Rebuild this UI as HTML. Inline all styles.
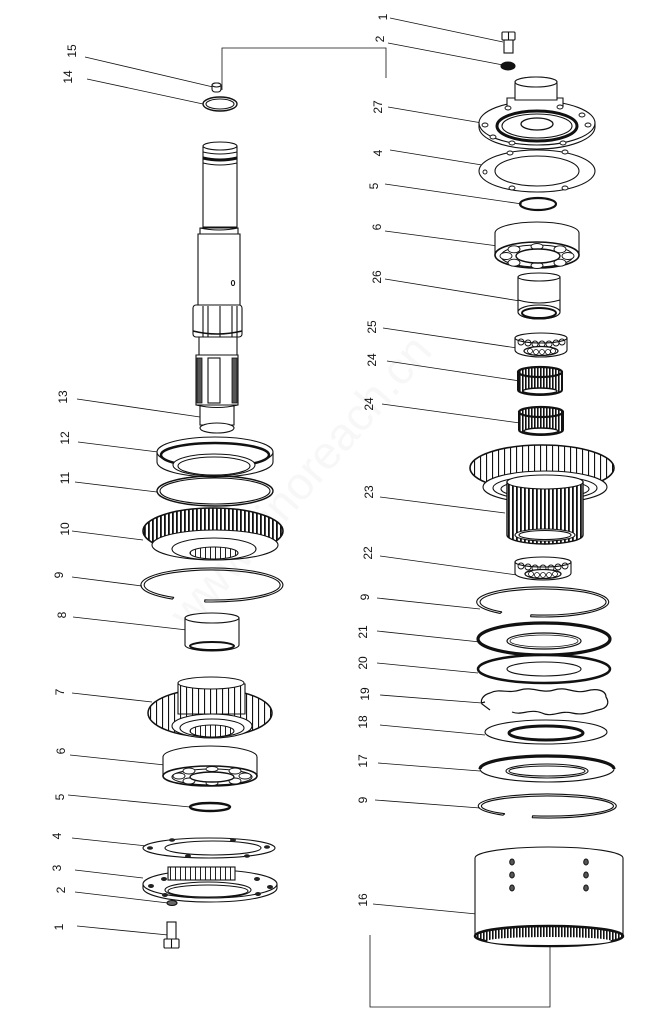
<!DOCTYPE html>
<html><head><meta charset="utf-8"><style>
html,body{margin:0;padding:0;background:#fff;}
svg{display:block;}
text{font-family:"Liberation Sans",sans-serif;font-size:12px;fill:#111;}
</style></head><body>
<svg width="660" height="1024" viewBox="0 0 660 1024" xmlns="http://www.w3.org/2000/svg">
<defs>
<pattern id="t" width="4" height="8" patternUnits="userSpaceOnUse"><rect width="4" height="8" fill="#fff"/><rect x="0" width="1.8" height="8" fill="#111"/></pattern>
<pattern id="g" width="6" height="8" patternUnits="userSpaceOnUse"><rect width="6" height="8" fill="#fff"/><rect x="0" width="1.1" height="8" fill="#111"/></pattern>
<pattern id="n" width="3" height="8" patternUnits="userSpaceOnUse"><rect width="3" height="8" fill="#fff"/><rect x="0" width="1.6" height="8" fill="#111"/></pattern>
<pattern id="s" width="5" height="8" patternUnits="userSpaceOnUse"><rect width="5" height="8" fill="#fff"/><rect x="0" width="1" height="8" fill="#222"/></pattern>
</defs>

<!-- watermark -->
<text transform="translate(312,492) rotate(-49)" text-anchor="middle" style="font-size:46px;fill:#f7f7f7">www.sinoreach.cn</text>

<!-- leader lines -->
<g stroke="#111" stroke-width="0.8" fill="none">
<path d="M85 57L213 87M87 79L203 104M77 399L200 417M78 442L158 452M75 482L157 492M72 531L143 540M72 577L142 586M73 617L187 630M72 693L152 702M70 755L165 765M68 795L190 807M72 838L147 846M75 870L143 878M75 892L168 903M77 926L168 935"/>
<path d="M390 18L503 42M388 43L503 65M388 107L482 123M390 150L482 165M385 184L522 204M385 231L498 246M385 279L520 301M383 328L517 348M387 361L520 381M382 404L520 423M380 497L505 513M380 556L517 575M377 598L480 609M377 631L480 642M377 663L478 673M380 695L482 703M380 725L485 735M378 763L480 771M375 800L480 808M373 904L487 915"/>
<path d="M222 90L222 48L386 48L386 78"/>
<path d="M370 935L370 1007L550 1007L550 945"/>
</g>

<!-- labels -->
<g text-anchor="middle">
<text transform="translate(72,51) rotate(-90)" dy="4">15</text>
<text transform="translate(68,77) rotate(-90)" dy="4">14</text>
<text transform="translate(63,397) rotate(-90)" dy="4">13</text>
<text transform="translate(65,438) rotate(-90)" dy="4">12</text>
<text transform="translate(65,478) rotate(-90)" dy="4">11</text>
<text transform="translate(65,529) rotate(-90)" dy="4">10</text>
<text transform="translate(59,575) rotate(-90)" dy="4">9</text>
<text transform="translate(62,615) rotate(-90)" dy="4">8</text>
<text transform="translate(60,692) rotate(-90)" dy="4">7</text>
<text transform="translate(61,751) rotate(-90)" dy="4">6</text>
<text transform="translate(60,797) rotate(-90)" dy="4">5</text>
<text transform="translate(57,836) rotate(-90)" dy="4">4</text>
<text transform="translate(57,868) rotate(-90)" dy="4">3</text>
<text transform="translate(61,890) rotate(-90)" dy="4">2</text>
<text transform="translate(59,927) rotate(-90)" dy="4">1</text>

<text transform="translate(383,17) rotate(-90)" dy="4">1</text>
<text transform="translate(380,39) rotate(-90)" dy="4">2</text>
<text transform="translate(378,107) rotate(-90)" dy="4">27</text>
<text transform="translate(378,153) rotate(-90)" dy="4">4</text>
<text transform="translate(374,186) rotate(-90)" dy="4">5</text>
<text transform="translate(377,227) rotate(-90)" dy="4">6</text>
<text transform="translate(377,277) rotate(-90)" dy="4">26</text>
<text transform="translate(372,327) rotate(-90)" dy="4">25</text>
<text transform="translate(372,360) rotate(-90)" dy="4">24</text>
<text transform="translate(369,404) rotate(-90)" dy="4">24</text>
<text transform="translate(369,492) rotate(-90)" dy="4">23</text>
<text transform="translate(368,553) rotate(-90)" dy="4">22</text>
<text transform="translate(365,597) rotate(-90)" dy="4">9</text>
<text transform="translate(363,632) rotate(-90)" dy="4">21</text>
<text transform="translate(363,663) rotate(-90)" dy="4">20</text>
<text transform="translate(365,694) rotate(-90)" dy="4">19</text>
<text transform="translate(363,722) rotate(-90)" dy="4">18</text>
<text transform="translate(363,761) rotate(-90)" dy="4">17</text>
<text transform="translate(363,800) rotate(-90)" dy="4">9</text>
<text transform="translate(363,900) rotate(-90)" dy="4">16</text>
</g>

<g stroke="#111" stroke-width="1.1" fill="#fff">
<!-- 15, 14 -->
<rect x="212" y="83" width="9" height="9" rx="3"/>
<ellipse cx="216.5" cy="85" rx="4.5" ry="2"/>
<ellipse cx="220" cy="104" rx="17" ry="7" stroke-width="1.4"/>
<ellipse cx="220" cy="104" rx="14" ry="5" fill="none"/>

<!-- shaft 13 -->
<path d="M203 147L203 227L237 227L237 147Z"/>
<ellipse cx="220" cy="146" rx="17" ry="4"/>
<path d="M203 152Q220 156 237 152" fill="none"/>
<path d="M203 158Q220 162 237 158" fill="none" stroke-width="3"/>
<path d="M203 163Q220 167 237 163" fill="none"/>
<path d="M200 228L238 228L238 234L200 234Z"/>
<path d="M200 228Q219 232 238 228" fill="none"/>
<path d="M198 234L240 234L240 306L198 306Z"/>
<ellipse cx="233" cy="283" rx="1.6" ry="2.5" fill="none"/>
<path d="M199 337L237 337L237 356L199 356Z"/>
<rect x="193" y="305" width="49" height="32" rx="3"/>
<path d="M203 306L203 337M208 306L208 337M220 306L220 337M232 306L232 337M237 306L237 337" fill="none"/>
<path d="M193 331Q217 337 242 331" fill="none" stroke-width="1.5"/>
<path d="M196 355L238 355L238 405L196 405Z"/>
<rect x="197" y="358" width="5" height="45" fill="#555" stroke-width="0.8"/>
<rect x="208" y="358" width="12" height="45" fill="#fff"/>
<rect x="232" y="358" width="5" height="45" fill="#555" stroke-width="0.8"/>
<path d="M200 405L234 405L234 425L200 425Z"/>
<path d="M196 405Q217 410 238 405" fill="none"/>
<ellipse cx="217" cy="428" rx="17" ry="5"/>

<!-- 12 -->
<path d="M157 452L157 462A58 15 0 0 0 273 462L273 452Z"/>
<ellipse cx="215" cy="452" rx="58" ry="15"/>
<ellipse cx="215" cy="455" rx="54" ry="12" fill="none" stroke-width="2.5"/>
<ellipse cx="214" cy="465" rx="41" ry="11"/>
<ellipse cx="214" cy="466" rx="36" ry="9" fill="none"/>
<!-- 11 -->
<ellipse cx="215" cy="491" rx="58" ry="15" fill="none" stroke-width="1.4"/>
<ellipse cx="215" cy="491" rx="55" ry="13" fill="none"/>
<!-- 10 gear -->
<ellipse cx="213" cy="531" rx="70" ry="23" fill="url(#t)" stroke-width="1.6"/>
<ellipse cx="215" cy="545" rx="63" ry="15"/>
<ellipse cx="214" cy="549" rx="42" ry="11"/>
<ellipse cx="214" cy="553" rx="24" ry="6" fill="url(#s)"/>
<!-- 9 -->
<path d="M204.6 601.9A71 17 0 1 0 172.3 599.1L174 597.4M204.6 601.9L204.9 599.9A68 15 0 1 0 174 597.4" fill="none"/>
<!-- 8 -->
<path d="M185 618L185 645A27 6 0 0 0 239 645L239 618Z"/>
<ellipse cx="212" cy="618" rx="27" ry="5"/>
<ellipse cx="212" cy="646" rx="22" ry="4" fill="none" stroke-width="2"/>
<!-- 7 gear -->
<ellipse cx="210" cy="713" rx="62" ry="24" fill="url(#g)" stroke-width="1.5"/>
<path d="M178 684L178 714L245 714L245 684Z" fill="url(#g)"/>
<ellipse cx="211" cy="683" rx="33" ry="6"/>
<ellipse cx="212" cy="726" rx="40" ry="12"/>
<ellipse cx="212" cy="728" rx="32" ry="9" fill="none"/>
<ellipse cx="212" cy="731" rx="22" ry="6" fill="url(#s)"/>
<!-- 6 bearing left -->
<path d="M163 757A47 11 0 0 1 257 757L257 776L163 776Z"/>
<ellipse cx="210" cy="776" rx="47" ry="10" stroke-width="1.6"/>
<ellipse cx="212" cy="777" rx="40" ry="8" fill="none"/>
<g stroke-width="0.9">
<ellipse cx="245" cy="776" rx="6" ry="3"/><ellipse cx="235" cy="781" rx="6" ry="3"/><ellipse cx="212" cy="783" rx="6" ry="2.5"/><ellipse cx="189" cy="781" rx="6" ry="3"/><ellipse cx="179" cy="776" rx="6" ry="3"/><ellipse cx="189" cy="771" rx="6" ry="3"/><ellipse cx="212" cy="769" rx="6" ry="2.5"/><ellipse cx="235" cy="771" rx="6" ry="3"/>
</g>
<ellipse cx="212" cy="777" rx="22" ry="5" stroke-width="1.4"/>
<!-- 5 -->
<ellipse cx="210" cy="807" rx="20" ry="4" fill="none" stroke-width="2.4"/>
<!-- 4 gasket -->
<ellipse cx="209" cy="848" rx="66" ry="10"/>
<ellipse cx="213" cy="848" rx="48" ry="7" fill="none"/>
<g fill="#222" stroke="none">
<ellipse cx="172" cy="840" rx="3" ry="1.8"/><ellipse cx="233" cy="840" rx="3" ry="1.8"/><ellipse cx="150" cy="848" rx="3" ry="1.8"/><ellipse cx="188" cy="856" rx="3" ry="1.8"/><ellipse cx="247" cy="856" rx="3" ry="1.8"/><ellipse cx="267" cy="847" rx="3" ry="1.8"/>
</g>
<!-- 3 flange -->
<path d="M143 884L143 888A67 14 0 0 0 277 888L277 884Z"/>
<ellipse cx="210" cy="884" rx="67" ry="14"/>
<rect x="168" y="867" width="67" height="13" fill="url(#s)"/>
<ellipse cx="208" cy="890" rx="43" ry="8"/>
<ellipse cx="208" cy="891" rx="40" ry="6" fill="none"/>
<g fill="#222" stroke="none">
<ellipse cx="151" cy="886" rx="3" ry="2"/><ellipse cx="164" cy="879" rx="3" ry="2"/><ellipse cx="257" cy="879" rx="3" ry="2"/><ellipse cx="270" cy="887" rx="3" ry="2"/><ellipse cx="165" cy="895" rx="3" ry="2"/><ellipse cx="258" cy="894" rx="3" ry="2"/>
</g>
<!-- 2, 1 left -->
<ellipse cx="172" cy="903" rx="5" ry="2.5" fill="#666"/>
<rect x="167" y="922" width="9" height="18"/>
<rect x="164" y="939" width="15" height="9" rx="1"/>
<path d="M171.5 939L171.5 948" fill="none"/>

<!-- RIGHT COLUMN -->
<rect x="502" y="32" width="13" height="8" rx="1"/>
<path d="M508.5 32L508.5 40" fill="none"/>
<rect x="504" y="40" width="9" height="13"/>
<ellipse cx="508" cy="66" rx="7" ry="4" fill="#111"/>
<!-- 27 cover -->
<path d="M479 123L479 127A58 22 0 0 0 595 127L595 123Z"/>
<ellipse cx="537" cy="123" rx="58" ry="22"/>
<path d="M507 107L507 98L563 98L563 107"/>
<path d="M515 100L515 84Q515 77 536 77Q557 77 557 84L557 100Z"/>
<ellipse cx="536" cy="82" rx="21" ry="5"/>
<ellipse cx="537" cy="126" rx="40" ry="15" stroke-width="3"/>
<ellipse cx="537" cy="126" rx="35" ry="12" fill="none"/>
<ellipse cx="537" cy="124" rx="16" ry="6" fill="none" stroke-width="1.3"/>
<g stroke-width="0.9">
<ellipse cx="508" cy="108" rx="3" ry="2"/><ellipse cx="560" cy="107" rx="3" ry="2"/><ellipse cx="485" cy="125" rx="3" ry="2"/><ellipse cx="493" cy="137" rx="3" ry="2"/><ellipse cx="512" cy="143" rx="3" ry="2"/><ellipse cx="563" cy="143" rx="3" ry="2"/><ellipse cx="582" cy="115" rx="3" ry="2"/><ellipse cx="588" cy="125" rx="3" ry="2"/>
</g>
<!-- 4 gasket -->
<ellipse cx="537" cy="171" rx="58" ry="21"/>
<ellipse cx="537" cy="171" rx="42" ry="15" fill="none"/>
<g stroke-width="0.9">
<ellipse cx="510" cy="153" rx="3" ry="2"/><ellipse cx="565" cy="152" rx="3" ry="2"/><ellipse cx="485" cy="172" rx="2" ry="2"/><ellipse cx="512" cy="188" rx="3" ry="2"/><ellipse cx="565" cy="188" rx="3" ry="2"/>
</g>
<!-- 5 -->
<ellipse cx="538" cy="204" rx="18" ry="6" fill="none" stroke-width="2.2"/>
<!-- 6 bearing right -->
<path d="M495 233A42 11 0 0 1 579 233L579 255L495 255Z"/>
<ellipse cx="537" cy="255" rx="42" ry="13" stroke-width="1.6"/>
<ellipse cx="537" cy="256" rx="36" ry="11" fill="none"/>
<g stroke-width="0.9">
<ellipse cx="568" cy="256" rx="6" ry="3.5"/><ellipse cx="560" cy="262.7" rx="6" ry="3.5"/><ellipse cx="537" cy="265.5" rx="6" ry="3"/><ellipse cx="514" cy="262.7" rx="6" ry="3.5"/><ellipse cx="506" cy="256" rx="6" ry="3.5"/><ellipse cx="514" cy="249.3" rx="6" ry="3.5"/><ellipse cx="537" cy="246.5" rx="6" ry="3"/><ellipse cx="560" cy="249.3" rx="6" ry="3.5"/>
</g>
<ellipse cx="538" cy="256" rx="22" ry="7" stroke-width="1.4"/>
<!-- 26 bushing -->
<path d="M518 277L518 312A21 7 0 0 0 560 312L560 277Z"/>
<ellipse cx="539" cy="277" rx="21" ry="4"/>
<path d="M518 300Q539 306 560 300" fill="none"/>
<ellipse cx="539" cy="312" rx="21" ry="7"/>
<ellipse cx="539" cy="313" rx="17" ry="5" fill="none" stroke-width="2"/>
<!-- 25 bearing -->
<path d="M515 338L515 350A26 7 0 0 0 567 350L567 338Z"/>
<ellipse cx="541" cy="338" rx="26" ry="5"/>
<g stroke-width="0.9" fill="none">
<circle cx="521" cy="342" r="3"/><circle cx="528" cy="343" r="3"/><circle cx="535" cy="344" r="3"/><circle cx="542" cy="344" r="3"/><circle cx="549" cy="344" r="3"/><circle cx="556" cy="343" r="3"/><circle cx="562" cy="342" r="3"/>
</g>
<ellipse cx="541" cy="351" rx="17" ry="4.5" stroke-width="1.3"/>
<g stroke-width="0.8" fill="none"><circle cx="530" cy="351" r="2.5"/><circle cx="536" cy="352" r="2.5"/><circle cx="542" cy="352" r="2.5"/><circle cx="548" cy="352" r="2.5"/><circle cx="553" cy="351" r="2.5"/></g>
<!-- 24 needle bearings -->
<path d="M518 372L518 390A22 5 0 0 0 562 390L562 372Z" fill="url(#n)" stroke-width="2"/>
<ellipse cx="540" cy="372" rx="22" ry="5" fill="url(#n)" stroke-width="2.2"/>
<ellipse cx="540" cy="391" rx="17" ry="3" fill="#fff" stroke-width="1.4"/>
<path d="M519 412L519 430A22 5 0 0 0 563 430L563 412Z" fill="url(#n)" stroke-width="2"/>
<ellipse cx="541" cy="412" rx="22" ry="5" fill="url(#n)" stroke-width="2.2"/>
<ellipse cx="541" cy="431" rx="17" ry="3" fill="#fff" stroke-width="1.4"/>
<!-- 23 gear -->
<ellipse cx="542" cy="468" rx="72" ry="23" fill="url(#g)" stroke-width="1.6"/>
<ellipse cx="545" cy="487" rx="62" ry="16"/>
<ellipse cx="545" cy="488" rx="52" ry="12" fill="none"/>
<ellipse cx="545" cy="489" rx="44" ry="9" fill="none"/>
<path d="M507 482L507 535A38 9 0 0 0 583 535L583 482Z" fill="url(#t)" stroke-width="1.4"/>
<ellipse cx="545" cy="482" rx="38" ry="7"/>
<ellipse cx="545" cy="535" rx="30" ry="6"/>
<ellipse cx="545" cy="535" rx="26" ry="4.5" fill="none"/>
<!-- 22 bearing -->
<path d="M515 562L515 573A28 7 0 0 0 571 573L571 562Z"/>
<ellipse cx="543" cy="562" rx="28" ry="5"/>
<g stroke-width="0.9" fill="none">
<circle cx="521" cy="566" r="3"/><circle cx="528" cy="567" r="3"/><circle cx="535" cy="568" r="3"/><circle cx="543" cy="568" r="3"/><circle cx="551" cy="568" r="3"/><circle cx="558" cy="567" r="3"/><circle cx="565" cy="566" r="3"/>
</g>
<ellipse cx="543" cy="574" rx="18" ry="4.5" stroke-width="1.3"/>
<g stroke-width="0.8" fill="none"><circle cx="531" cy="574" r="2.5"/><circle cx="537" cy="575" r="2.5"/><circle cx="543" cy="575" r="2.5"/><circle cx="549" cy="575" r="2.5"/><circle cx="555" cy="574" r="2.5"/></g>
<!-- 9 -->
<path d="M530.4 616.7A66 15 0 1 0 500 613.4L502 611.9M530.4 616.7L531 614.8A63 13 0 1 0 502 611.9" fill="none"/>
<!-- 21 -->
<ellipse cx="544" cy="639" rx="66" ry="16" stroke-width="3.2"/>
<ellipse cx="544" cy="641" rx="37" ry="8" fill="none" stroke-width="1.2"/>
<ellipse cx="544" cy="641" rx="34" ry="6" fill="none" stroke-width="0.8"/>
<!-- 20 -->
<ellipse cx="544" cy="669" rx="66" ry="14" stroke-width="2.5"/>
<ellipse cx="544" cy="669" rx="37" ry="7" fill="none"/>
<!-- 19 wave spring -->
<path d="M512 712C522 716 530 708 542 713C552 718 560 710 572 713C584 716 592 711 602 709C610 706 608 700 606 697C606 690 596 688 586 691C574 694 566 686 554 690C542 694 532 686 520 690C508 694 500 688 490 693C483 695 480 700 482 704L490 710M481 703L485 702" fill="none" stroke-width="1.2"/>
<!-- 18 -->
<ellipse cx="546" cy="732" rx="61" ry="12"/>
<ellipse cx="546" cy="733" rx="37" ry="7" fill="none" stroke-width="3"/>
<!-- 17 -->
<ellipse cx="547" cy="769" rx="67" ry="13"/>
<path d="M480 769A67 13 0 0 1 614 769" fill="none" stroke-width="3.2"/>
<ellipse cx="547" cy="771" rx="41" ry="7" fill="none"/>
<ellipse cx="547" cy="771" rx="38" ry="5" fill="none"/>
<!-- 9 -->
<path d="M532.1 817.7A69 12 0 1 0 503 815.2L504.9 813.7M532.1 817.7L532.7 815.8A66 10 0 1 0 504.9 813.7" fill="none"/>
<!-- 16 drum -->
<path d="M475 858A74 11 0 0 1 623 858L623 936L475 936Z"/>
<ellipse cx="549" cy="936" rx="74" ry="10" fill="url(#n)" stroke-width="2.6"/>
<ellipse cx="549" cy="941" rx="62" ry="4" stroke="none"/>
<g stroke-width="1" fill="#555">
<ellipse cx="512" cy="862" rx="2.3" ry="3"/><ellipse cx="512" cy="875" rx="2.3" ry="3"/><ellipse cx="512" cy="888" rx="2.3" ry="3"/>
<ellipse cx="586" cy="862" rx="2.3" ry="3"/><ellipse cx="586" cy="875" rx="2.3" ry="3"/><ellipse cx="586" cy="888" rx="2.3" ry="3"/>
</g>
</g>
</svg>
</body></html>
